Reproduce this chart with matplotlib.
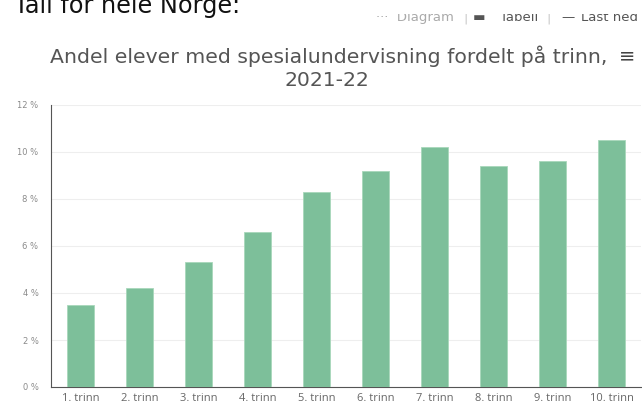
import matplotlib
matplotlib.use("Agg")
import matplotlib.pyplot as plt
from matplotlib.patches import Rectangle

# data
trinn = ["1. trinn", "2. trinn", "3. trinn", "4. trinn", "5. trinn",
         "6. trinn", "7. trinn", "8. trinn", "9. trinn", "10. trinn"]
andel = [3.5, 4.2, 5.3, 6.6, 8.3, 9.2, 10.2, 9.4, 9.6, 10.5]
yticks = [0, 2, 4, 6, 8, 10, 12]

W, H = 642, 403
fig = plt.figure(figsize=(W / 100, H / 100), dpi=100)
fig.patch.set_facecolor("white")

ax = fig.add_axes([51 / W, 16 / H, 590 / W, 282 / H])
x = range(len(trinn))
ax.bar(x, andel, width=0.46, color="#7dbf9a", edgecolor="#a8d8bb", linewidth=0.6, zorder=3)
ax.set_xlim(-0.5, len(trinn) - 0.5)
ax.set_ylim(0, 12)
ax.set_yticks(yticks)
ax.set_yticklabels(["%d %%" % v for v in yticks], fontsize=6, color="#8a8a8a")
ax.set_xticks(list(x))
ax.set_xticklabels(trinn, fontsize=8, color="#666666", family="Open Sans")
ax.tick_params(axis="both", length=0, pad=4)
ax.tick_params(axis="y", pad=9)
ax.grid(axis="y", color="#eeeeee", linewidth=0.8, zorder=0)
for s in ["top", "right"]:
    ax.spines[s].set_visible(False)
ax.spines["left"].set_color("#555555")
ax.spines["bottom"].set_color("#555555")
ax.spines["left"].set_linewidth(0.8)
ax.spines["bottom"].set_linewidth(0.8)

# page text above the chart (top of it is cut off in the screenshot)
fig.text(14 / W, 1 - 13 / H, "Tall for hele Norge:", fontsize=17.3, color="#111111",
         family="DejaVu Sans", va="baseline")

# toolbar, only its lower half shows
toolbar = [(376, "···  Diagram", "#aaaaaa"), (463, "|", "#cccccc"), (473, "▬", "#555555"),
           (500, "Tabell", "#555555"), (546, "|", "#cccccc"), (561, "—", "#555555"),
           (581, "Last ned", "#555555")]
for px, t, c in toolbar:
    fig.text(px / W, 1 - 21 / H, t, fontsize=9.5, color=c,
             family="DejaVu Sans", va="baseline")
fig.patches.append(Rectangle((370 / W, 1 - 14 / H), 280 / W, 14 / H,
                             transform=fig.transFigure, facecolor="white",
                             edgecolor="none", zorder=5))

fig.text(328.5 / W, 1 - 63 / H, "Andel elever med spesialundervisning fordelt på trinn,",
         fontsize=14.7, color="#555555", family="DejaVu Sans", ha="center", va="baseline")
fig.text(327 / W, 1 - 86 / H, "2021-22", fontsize=14.7, color="#555555",
         family="DejaVu Sans", ha="center", va="baseline")
fig.text(627 / W, 1 - 61 / H, "≡", fontsize=14, color="#444444",
         family="DejaVu Sans", ha="center", va="baseline")

fig.savefig("out.png", dpi=100)
